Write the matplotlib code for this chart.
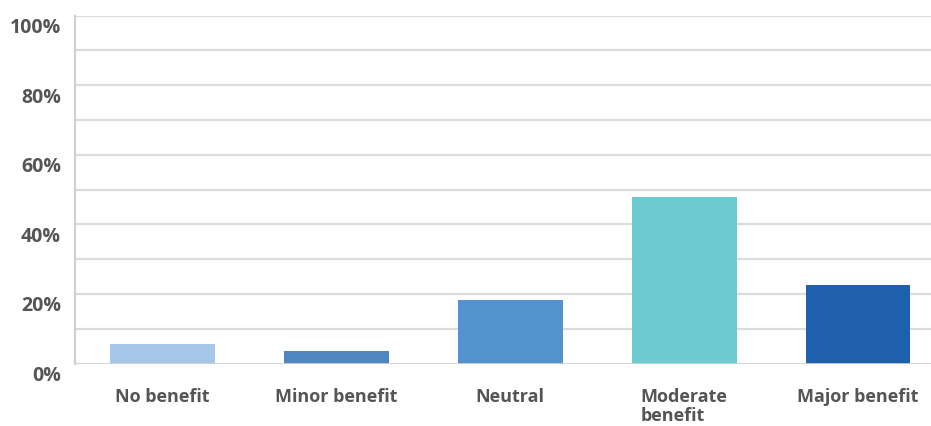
import matplotlib
matplotlib.use("Agg")
import matplotlib.pyplot as plt
import matplotlib.transforms as mtransforms
import numpy as np

categories = ["No benefit", "Minor benefit", "Neutral", "Moderate\nbenefit", "Major benefit"]
values = [5.6, 3.6, 18.2, 47.8, 22.6]
colors = ["#a6c8e8", "#5087c2", "#5593d0", "#6bcbd0", "#1f60ad"]
ytick_vals = [0, 20, 40, 60, 80, 100]
ytick_labels = ["0%", "20%", "40%", "60%", "80%", "100%"]

plt.rcParams['font.family'] = ['Open Sans', 'DejaVu Sans']
fig = plt.figure(figsize=(9.31, 4.27), dpi=100)
W, H = 931, 427
ax = fig.add_axes([75 / W, (H - 364.5) / H, (931 - 75) / W, (364.5 - 16.5) / H])

x = np.arange(len(categories))
ax.bar(x, values, width=0.603, color=colors, zorder=3)

ax.set_xlim(-0.503, 4.42)
ax.set_ylim(0, 100)

for g in range(10, 101, 10):
    ax.axhline(g, color="#dcdcdc", lw=1.6, zorder=1)
ax.axhline(0, color="#d0d0d0", lw=2, zorder=4)

for s in ["top", "right", "bottom"]:
    ax.spines[s].set_visible(False)
ax.spines["left"].set_color("#d0d0d0")
ax.spines["left"].set_linewidth(1.6)

ax.set_yticks(ytick_vals)
ax.set_yticklabels(ytick_labels, fontsize=14, fontweight="bold", color="#555555")
ax.tick_params(axis="y", length=0, pad=10)
offset = mtransforms.ScaledTranslation(0, -9 / 100, fig.dpi_scale_trans)
for lab in ax.get_yticklabels():
    lab.set_transform(lab.get_transform() + offset)

ax.set_xticks(x)
ax.set_xticklabels(categories, fontsize=13, fontweight="bold", color="#555555",
                   multialignment="left", linespacing=1.05)
ax.tick_params(axis="x", length=0, pad=17)

fig.savefig("out.png", dpi=100)
